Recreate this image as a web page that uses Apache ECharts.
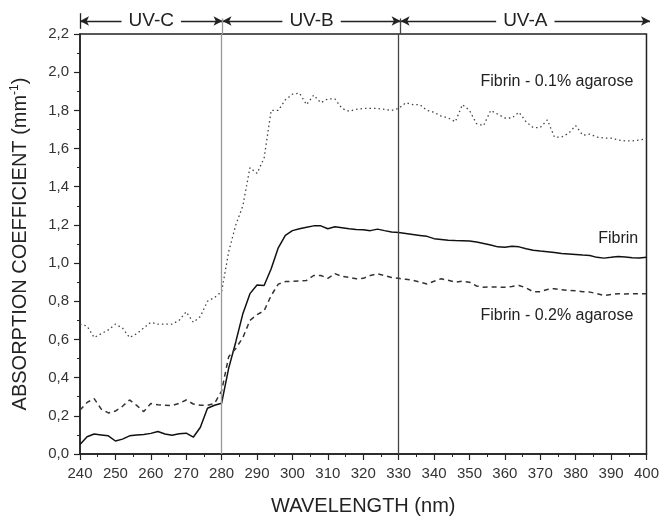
<!DOCTYPE html>
<html><head><meta charset="utf-8">
<script src="https://cdn.jsdelivr.net/npm/echarts@6/dist/echarts.min.js"></script>
<style>html,body{margin:0;padding:0;background:#fff}#c{width:662px;height:521px}</style>
</head><body><div id="c"></div>
<script>
var wavelengths = [];
for (var w = 240; w <= 400; w += 2) wavelengths.push(w);

var agarose01 = [0.68,0.67,0.61,0.63,0.65,0.68,0.66,0.61,0.63,0.66,0.69,0.68,0.68,0.68,0.70,0.745,0.69,0.72,0.80,0.82,
0.85,1.06,1.20,1.30,1.50,1.47,1.55,1.80,1.80,1.855,1.885,1.89,1.83,1.88,1.84,1.86,1.86,1.81,1.795,1.805,
1.81,1.81,1.81,1.805,1.80,1.81,1.84,1.83,1.83,1.80,1.79,1.77,1.76,1.74,1.83,1.80,1.73,1.72,1.80,1.78,
1.76,1.76,1.79,1.74,1.71,1.71,1.75,1.66,1.66,1.68,1.72,1.67,1.675,1.66,1.655,1.655,1.645,1.64,1.64,1.645,1.65];

var fibrin = [0.05,0.09,0.105,0.10,0.095,0.068,0.078,0.095,0.10,0.102,0.108,0.118,0.105,0.098,0.106,0.109,0.088,0.14,0.24,0.255,
0.266,0.45,0.587,0.735,0.84,0.885,0.883,0.97,1.08,1.145,1.17,1.18,1.188,1.195,1.195,1.18,1.19,1.185,1.18,1.176,
1.175,1.17,1.178,1.17,1.163,1.16,1.155,1.15,1.145,1.14,1.128,1.124,1.12,1.118,1.117,1.116,1.11,1.103,1.095,1.085,
1.083,1.088,1.085,1.075,1.067,1.063,1.06,1.055,1.05,1.048,1.045,1.042,1.04,1.03,1.026,1.03,1.035,1.032,1.028,1.027,1.03];

var agarose02 = [0.23,0.27,0.29,0.235,0.215,0.225,0.25,0.283,0.255,0.222,0.265,0.258,0.255,0.254,0.265,0.283,0.262,0.255,0.255,0.265,
0.33,0.51,0.553,0.61,0.70,0.73,0.75,0.83,0.89,0.903,0.905,0.906,0.909,0.935,0.935,0.92,0.945,0.93,0.926,0.918,
0.92,0.935,0.944,0.935,0.925,0.92,0.915,0.91,0.90,0.89,0.905,0.918,0.91,0.90,0.905,0.90,0.88,0.874,0.875,0.874,
0.874,0.878,0.883,0.87,0.85,0.85,0.862,0.866,0.86,0.857,0.855,0.85,0.848,0.84,0.83,0.835,0.84,0.838,0.84,0.84,0.84];

var bands = [
  {name: 'UV-C', from: 240, to: 280},
  {name: 'UV-B', from: 280, to: 330},
  {name: 'UV-A', from: 330, to: 400}
];
var bandBorders = [280, 330];
var seriesLabels = [
  {text: 'Fibrin - 0.1% agarose', x: 374.7, y: 1.95},
  {text: 'Fibrin', x: 392, y: 1.13},
  {text: 'Fibrin - 0.2% agarose', x: 374.7, y: 0.723}
];

function pairs(vals) { return wavelengths.map(function (w, i) { return [w, vals[i]]; }); }

var FONT = '"Liberation Sans", Arial, sans-serif';
var chart = echarts.init(document.getElementById('c'));

var arrowLines = [];
bands.forEach(function (b) {
  arrowLines.push([{coord: [b.from, 0.5], symbol: 'arrow'}, {coord: [b.to, 0.5], symbol: 'arrow'}]);
});
arrowLines.push([{coord: [240, 0.2], symbol: 'none'}, {coord: [240, 0.8], symbol: 'none'}]);
arrowLines.push([{coord: [280, 0], symbol: 'none', lineStyle: {color: '#999', width: 1.3}}, {coord: [280, 0.6], symbol: 'none'}]);
arrowLines.push([{coord: [330, 0], symbol: 'none', lineStyle: {color: '#444', width: 1.3}}, {coord: [330, 0.6], symbol: 'none'}]);

chart.setOption({
  animation: false,
  grid: [
    {left: 80, right: 12, top: 34, bottom: 65, show: true, borderColor: '#222', borderWidth: 1.5, backgroundColor: 'transparent'},
    {left: 80, right: 12, top: 8, height: 26}
  ],
  xAxis: [{
    type: 'value', min: 240, max: 400, interval: 10, gridIndex: 0,
    name: 'WAVELENGTH (nm)', nameLocation: 'middle', nameGap: 42,
    nameTextStyle: {fontFamily: FONT, fontSize: 20, color: '#222'},
    axisLine: {show: true, lineStyle: {color: '#222', width: 1.5}},
    axisTick: {show: true, inside: false, length: 6, lineStyle: {color: '#222', width: 1.2}},
    minorTick: {show: true, splitNumber: 2, length: 3, lineStyle: {color: '#222', width: 1}},
    axisLabel: {fontFamily: FONT, fontSize: 15, color: '#333', margin: 12},
    splitLine: {show: false}
  }, {
    type: 'value', min: 240, max: 400, gridIndex: 1, show: false
  }],
  yAxis: [{
    type: 'value', min: 0, max: 2.2, interval: 0.2, gridIndex: 0,
    name: 'ABSORPTION COEFFICIENT (mm{sup|-1})', nameLocation: 'middle', nameGap: 48,
    nameTextStyle: {fontFamily: FONT, fontSize: 20, color: '#222',
      rich: {sup: {fontFamily: FONT, fontSize: 12, color: '#222', padding: [0, 0, 11, 0]}}},
    axisLine: {show: true, lineStyle: {color: '#222', width: 1.5}},
    axisTick: {show: true, inside: false, length: 6, lineStyle: {color: '#222', width: 1.2}},
    minorTick: {show: true, splitNumber: 2, length: 3, lineStyle: {color: '#222', width: 1}},
    axisLabel: {fontFamily: FONT, fontSize: 15, color: '#333', margin: 11,
      formatter: function (v) { return v.toFixed(1).replace('.', ','); }},
    splitLine: {show: false}
  }, {
    type: 'value', min: 0, max: 1, gridIndex: 1, show: false
  }],
  series: [
    {
      type: 'line', name: 'Fibrin - 0.1% agarose', data: pairs(agarose01), showSymbol: false, symbol: 'none',
      lineStyle: {color: '#444', width: 1.3, type: [1.5, 3]},
      markLine: {
        silent: true, symbol: 'none', label: {show: false},
        data: bandBorders.map(function (b, i) {
          return {xAxis: b, lineStyle: {color: i === 0 ? '#999' : '#444', width: 1.3, type: 'solid'}};
        })
      }
    },
    {
      type: 'line', name: 'Fibrin', data: pairs(fibrin), showSymbol: false, symbol: 'none',
      lineStyle: {color: '#111', width: 1.5, type: 'solid'}
    },
    {
      type: 'line', name: 'Fibrin - 0.2% agarose', data: pairs(agarose02), showSymbol: false, symbol: 'none',
      lineStyle: {color: '#333', width: 1.5, type: [5, 4]}
    },
    {
      type: 'scatter', data: [], z: 10,
      markPoint: {
        symbol: 'circle', symbolSize: 0,
        label: {show: true, fontFamily: FONT, fontSize: 16, color: '#222', position: 'inside'},
        data: seriesLabels.map(function (s) { return {coord: [s.x, s.y], value: s.text, label: {formatter: s.text}}; })
      }
    },
    {
      type: 'line', data: [], xAxisIndex: 1, yAxisIndex: 1,
      markLine: {
        silent: true, symbolSize: [7, 9], label: {show: false},
        lineStyle: {color: '#222', width: 1.3, type: 'solid'},
        data: arrowLines
      }
    },
    {
      type: 'scatter', data: [], xAxisIndex: 1, yAxisIndex: 1, z: 20,
      markPoint: {
        symbol: 'rect', symbolSize: 0,
        label: {show: true, fontFamily: FONT, fontSize: 19, color: '#222', position: 'inside',
          backgroundColor: '#fff', padding: [1, 7]},
        data: bands.map(function (b) { return {coord: [(b.from + b.to) / 2, 0.5], label: {formatter: b.name}}; })
      }
    }
  ]
});
</script></body></html>
